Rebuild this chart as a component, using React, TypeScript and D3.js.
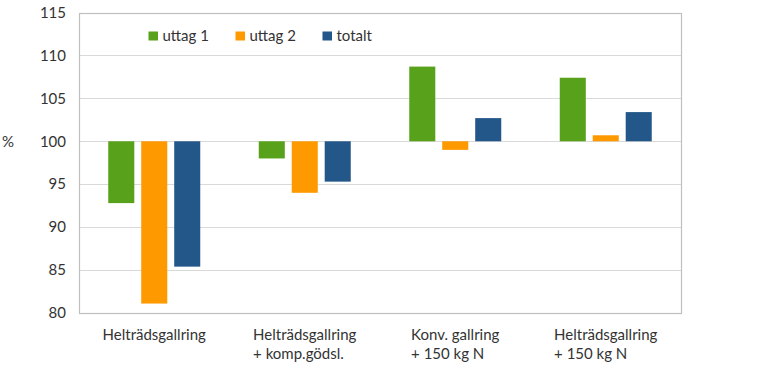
import React, { useEffect, useRef } from 'react';
import * as d3 from 'd3';

const categories = [
  ['Helträdsgallring'],
  ['Helträdsgallring', '+ komp.gödsl.'],
  ['Konv. gallring', '+ 150 kg N'],
  ['Helträdsgallring', '+ 150 kg N'],
];
const seriesNames = ['uttag 1', 'uttag 2', 'totalt'];
const uttag1 = [92.8, 98.0, 108.7, 107.4];
const uttag2 = [81.1, 94.0, 99.0, 100.7];
const totalt = [85.4, 95.3, 102.7, 103.4];
const yTicks = [80, 85, 90, 95, 100, 105, 110, 115];
const colors = ['#58A21B', '#FF9900', '#23578A'];

const App: React.FC = () => {
  const ref = useRef<SVGSVGElement>(null);

  useEffect(() => {
    if (!ref.current) return;
    const width = 768;
    const height = 365;
    const margin = { top: 12.5, right: 87, bottom: 52, left: 79 };
    const font = 'Lato, "Open Sans", sans-serif';
    const fs = 15;
    const textColor = '#333';

    const svg = d3.select(ref.current);
    svg.selectAll('*').remove();

    const values = [uttag1, uttag2, totalt];

    const x0 = d3
      .scaleBand<number>()
      .domain(d3.range(categories.length))
      .range([margin.left, width - margin.right]);

    const cluster = 92;
    const x1 = d3
      .scaleBand<number>()
      .domain(d3.range(seriesNames.length))
      .range([-cluster / 2, cluster / 2])
      .paddingInner(0.21);

    const y = d3
      .scaleLinear()
      .domain([80, 115])
      .range([height - margin.bottom, margin.top]);

    // gridlines
    svg
      .append('g')
      .selectAll('line')
      .data(yTicks)
      .enter()
      .append('line')
      .attr('x1', margin.left)
      .attr('x2', width - margin.right)
      .attr('y1', (d) => Math.round(y(d)) + 0.5)
      .attr('y2', (d) => Math.round(y(d)) + 0.5)
      .attr('stroke', '#D9D9D9')
      .attr('stroke-width', 1);

    // bars
    values.forEach((vals, si) => {
      svg
        .append('g')
        .selectAll('rect')
        .data(vals)
        .enter()
        .append('rect')
        .attr('x', (d, i) => x0(i)! + x0.bandwidth() / 2 + x1(si)!)
        .attr('width', x1.bandwidth())
        .attr('y', (d) => y(Math.max(d, 100)))
        .attr('height', (d) => Math.abs(y(d) - y(100)))
        .attr('fill', colors[si]);
    });

    // plot border
    svg
      .append('rect')
      .attr('x', margin.left + 0.5)
      .attr('y', Math.round(margin.top) + 0.5)
      .attr('width', width - margin.right - margin.left)
      .attr('height', Math.round(y(80)) - Math.round(margin.top))
      .attr('fill', 'none')
      .attr('stroke', '#BFBFBF')
      .attr('stroke-width', 1.2);

    // y axis labels
    svg
      .append('g')
      .selectAll('text')
      .data(yTicks)
      .enter()
      .append('text')
      .attr('x', 66)
      .attr('y', (d) => y(d))
      .attr('dy', '0.35em')
      .attr('text-anchor', 'end')
      .attr('font-family', font)
      .attr('font-size', fs)
      .attr('fill', textColor)
      .text((d) => d);

    svg
      .append('text')
      .attr('x', 2)
      .attr('y', y(100))
      .attr('dy', '0.35em')
      .attr('font-family', font)
      .attr('font-size', fs)
      .attr('fill', textColor)
      .text('%');

    // category labels
    categories.forEach((lines, i) => {
      const cx = x0(i)! + x0.bandwidth() / 2;
      const g = svg.append('g');
      const first = g
        .append('text')
        .attr('x', cx)
        .attr('y', 335)
        .attr('dy', '0.35em')
        .attr('text-anchor', 'middle')
        .attr('font-family', font)
        .attr('font-size', fs)
        .attr('fill', textColor)
        .text(lines[0]);
      if (lines[1]) {
        const w = (first.node() as SVGTextElement).getComputedTextLength();
        g.append('text')
          .attr('x', cx - w / 2)
          .attr('y', 354)
          .attr('dy', '0.35em')
          .attr('font-family', font)
          .attr('font-size', fs)
          .attr('fill', textColor)
          .text(lines[1]);
      }
    });

    // legend
    const legendX = [148.5, 235.5, 322.5];
    seriesNames.forEach((name, i) => {
      svg
        .append('rect')
        .attr('x', legendX[i])
        .attr('y', 31.5)
        .attr('width', 9.5)
        .attr('height', 9)
        .attr('fill', colors[i]);
      svg
        .append('text')
        .attr('x', legendX[i] + 14)
        .attr('y', 36)
        .attr('dy', '0.35em')
        .attr('font-family', font)
        .attr('font-size', fs)
        .attr('fill', textColor)
        .text(name);
    });
  }, []);

  return (
    <svg
      ref={ref}
      width={768}
      height={365}
      style={{ display: 'block', position: 'absolute', left: 0, top: 0, background: '#fff' }}
    />
  );
};

export default App;
